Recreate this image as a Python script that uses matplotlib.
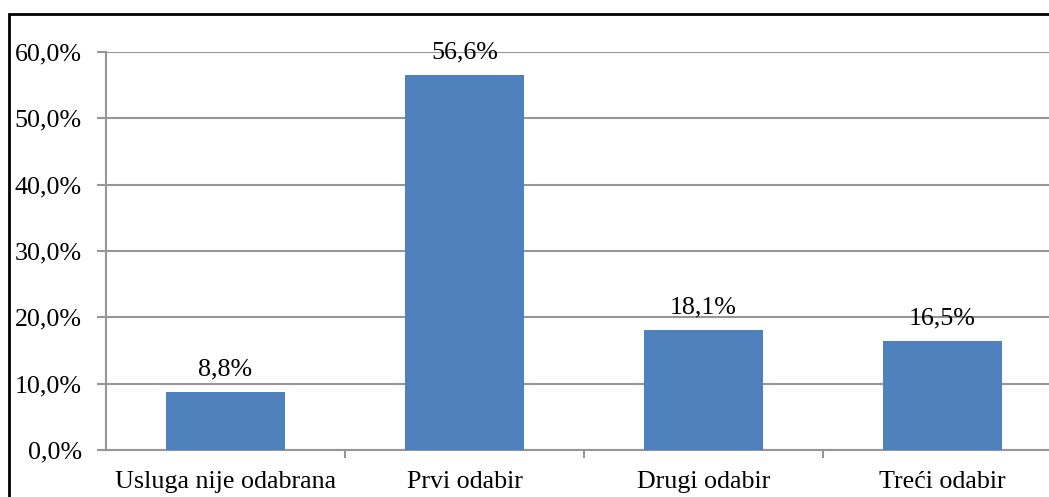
import matplotlib
matplotlib.use('Agg')
from matplotlib import pyplot as plt
from matplotlib.patches import Rectangle
from matplotlib.ticker import FuncFormatter

categories = ['Usluga nije odabrana', 'Prvi odabir', 'Drugi odabir', 'Treći odabir']
values = [8.8, 56.6, 18.1, 16.5]
yticks = [0, 10, 20, 30, 40, 50, 60]

plt.rcParams['font.family'] = ['Liberation Serif', 'DejaVu Serif']
grid_col = '#969696'
bar_col = '#4F81BD'

fig = plt.figure(figsize=(10.49, 4.97), dpi=100)
W, H = 1049, 497
# plot area, Excel-style, spilling off the right side like the original crop
ax = fig.add_axes([106 / W, (H - 450) / H, (1062 - 106) / W, (450 - 52) / H])

x = list(range(len(categories)))
ax.bar(x, values, width=0.5, color=bar_col, zorder=3)
for xi, v in zip(x, values):
    ax.annotate(f'{v:.1f}%'.replace('.', ','), (xi, v), xytext=(0, 8),
                textcoords='offset points', ha='center', va='bottom', fontsize=18.7)

ax.set_xlim(-0.5, 3.5)
ax.set_ylim(0, 60)
ax.set_yticks(yticks)
ax.yaxis.set_major_formatter(FuncFormatter(lambda v, p: f'{v:.1f}%'.replace('.', ',')))
ax.yaxis.grid(True, color=grid_col, lw=1.5, zorder=0)

ax.set_xticks(x)
ax.set_xticklabels(categories)
ax.set_xticks([0.5, 1.5, 2.5], minor=True)
ax.tick_params(axis='x', which='major', length=0, pad=15, labelsize=18.7)
ax.tick_params(axis='x', which='minor', length=6, width=1.5, color=grid_col, direction='out')
ax.tick_params(axis='y', length=6.5, width=1.5, color=grid_col, pad=11, labelsize=18.7)

for s in ['top', 'right']:
    ax.spines[s].set_visible(False)
for s in ['left', 'bottom']:
    ax.spines[s].set_color(grid_col)
    ax.spines[s].set_linewidth(1.5)

# outer chart border, only the top and left edges are inside the crop
fig.patches.append(Rectangle((9 / W, -0.1), 1.2, 1 - 14 / H + 0.1, transform=fig.transFigure,
                             fill=False, edgecolor='black', lw=2))

fig.savefig('out.png', dpi=100)
